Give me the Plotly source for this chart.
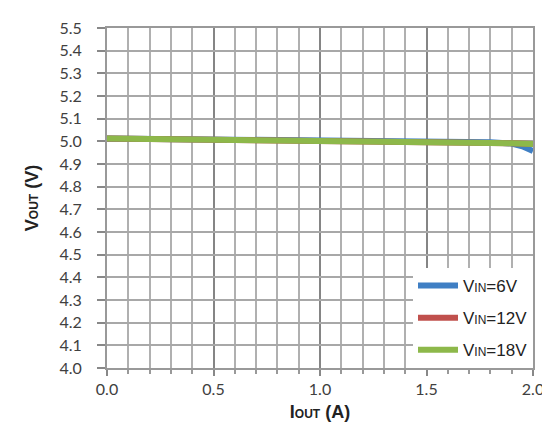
import plotly.graph_objects as go

iout = [0.0, 0.25, 0.5, 0.75, 1.0, 1.25, 1.5, 1.6, 1.7, 1.8, 1.9, 1.95, 2.0]
v_6v = [5.013, 5.011, 5.009, 5.007, 5.005, 5.002, 4.999, 4.999, 4.999, 4.996, 4.990, 4.978, 4.957]
v_12v = [5.013, 5.011, 5.009, 5.007, 5.005, 5.002, 4.998, 4.997, 4.995, 4.993, 4.991, 4.990, 4.988]
v_18v = [5.013, 5.011, 5.009, 5.007, 5.005, 5.002, 4.998, 4.997, 4.995, 4.993, 4.991, 4.990, 4.988]

small = "<span style='font-size:12px'>%s</span>"
series = [
    ("V" + small % "IN" + "=6V", v_6v, "#3f7fc4"),
    ("V" + small % "IN" + "=12V", v_12v, "#c0504d"),
    ("V" + small % "IN" + "=18V", v_18v, "#8db84a"),
]

fig = go.Figure()
for i, (name, ys, color) in enumerate(series):
    fig.add_trace(go.Scatter(x=iout, y=ys, mode="lines", name=name,
                             legendgroup="g%d" % i,
                             line=dict(color=color, width=6)))

tickfont = dict(family="Lato, Open Sans, sans-serif", size=16, color="#404040")
titlefont = dict(family="Liberation Sans, Arial, sans-serif", size=18, color="#222222")

fig.update_layout(
    width=550, height=440,
    margin=dict(l=99, r=25, t=10, b=80),
    paper_bgcolor="white", plot_bgcolor="white",
    showlegend=True,
    legend=dict(x=1, y=0, xanchor="right", yanchor="bottom",
                bgcolor="white", borderwidth=0,
                font=dict(family="Liberation Sans, Arial, sans-serif", size=17, color="#222222"),
                tracegroupgap=7, itemwidth=40),
    xaxis=dict(range=[0, 2.0], dtick=0.5, tick0=0, tickformat=".1f",
               showgrid=True, gridcolor="#858585", gridwidth=2,
               minor=dict(dtick=0.1, showgrid=True, gridcolor="#b0b0b0", gridwidth=2,
                          ticks="outside", ticklen=4, tickcolor="#999999"),
               ticks="outside", ticklen=6, tickcolor="#888888", tickwidth=2,
               ticklabelstandoff=0,
               showline=True, linecolor="#999999", linewidth=2, mirror=True,
               zeroline=False, tickfont=tickfont,
               title=dict(text="<b>I" + small % "OUT" + " (A)</b>", standoff=8, font=titlefont)),
    yaxis=dict(range=[4.0, 5.5], dtick=0.1, tick0=4.0, tickformat=".1f",
               showgrid=True, gridcolor="#a8a8a8", gridwidth=2,
               ticks="outside", ticklen=8, tickcolor="#888888", tickwidth=2,
               ticklabelstandoff=12,
               showline=True, linecolor="#999999", linewidth=2, mirror=True,
               zeroline=False, tickfont=tickfont,
               title=dict(text="<b>V" + small % "OUT" + " (V)</b>", standoff=16, font=titlefont)),
)

fig.write_html("out.html")
